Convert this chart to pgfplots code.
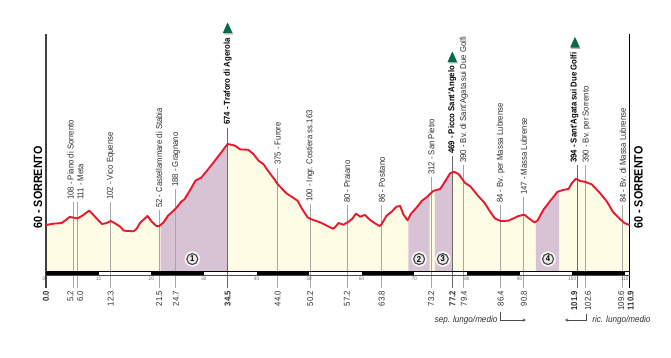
\documentclass[border=0pt]{standalone}
\usepackage{fontspec}
\setmainfont[FakeStretch=0.9]{Liberation Sans}
\usepackage{pgfplots}
\pgfplotsset{compat=1.18}
\usepgfplotslibrary{fillbetween}
\usepackage{pgfplotstable}
\definecolor{cream}{HTML}{FFFCE6}
\definecolor{zone}{HTML}{D7C3D4}
\definecolor{prof}{HTML}{E8192F}
\definecolor{vline}{HTML}{A6A6A2}
\definecolor{vdark}{HTML}{6A6A6A}
\definecolor{txt}{HTML}{2E2E2E}
\definecolor{gr}{HTML}{006B45}
\pgfplotstableread{
km e
0 60
1.4 70
3.0 75
3.6 93
4.5 121
5.2 116
6.0 110
7.0 133
8.2 169
9.2 128
10.6 68
11.4 73
12.3 90
13.1 73
14.1 47
14.8 17
15.6 15
16.6 12
17.2 30
17.9 78
19.3 128
20.1 85
21.0 52
21.5 52
22.3 78
23.2 131
24.7 186
25.7 237
26.3 254
27.4 325
28.4 396
29.5 419
30.7 477
31.8 532
33.4 615
34.5 674
35.9 661
36.9 633
38.4 630
39.4 598
40.4 547
41.3 522
42.2 470
43.5 401
44.0 370
45.7 300
47.8 244
48.6 186
49.7 118
50.3 105
52.1 80
54.5 32
54.9 42
55.6 75
56.5 62
57.5 85
58.2 108
58.9 146
59.7 123
60.6 136
61.6 98
62.5 73
63.4 52
63.8 68
64.7 130
65.7 161
66.6 199
67.3 204
67.9 141
68.7 95
69.3 143
70.4 191
71.4 242
72.3 270
73.6 318
74.9 333
75.8 388
76.8 452
77.5 464
78.4 446
79.6 380
80.7 350
81.8 295
83.4 224
84.4 161
85.3 110
86.4 90
87.9 93
89.8 128
90.9 138
92.0 103
92.8 80
93.4 93
94.5 174
95.8 242
97.2 312
98.2 325
99.3 333
99.9 376
100.7 411
101.5 393
102.4 388
103.7 368
105.2 305
106.6 237
107.7 161
109.1 103
110.0 73
110.9 60
}\profile
\newcommand{\lab}[4][]{\node[rotate=90,anchor=west,inner sep=0pt,text=txt,font=\fontsize{8.6}{9}\selectfont,#1] at (axis cs:#2,{60+(225-#3)*7.576}) {#4};}
\newcommand{\blab}[3]{\lab[text=black,font=\fontsize{8.6}{9}\selectfont\bfseries]{#1}{#2}{#3}}
\newcommand{\vl}[3][vline]{\addplot[#1,line width=1pt] coordinates {(#2,-417) (#2,#3)};}
\newcommand{\kmbar}[2]{\addplot[fill=black,draw=none] coordinates {(#1,-288.5) (#2,-288.5) (#2,-321) (#1,-321)} -- cycle;}
\newcommand{\stopn}[2]{\node[circle,fill=white,fill opacity=0.85,inner sep=0pt,minimum size=15.5pt] at (axis cs:#1,-198) {};
\node[circle,draw=black!70,line width=1.2pt,fill=black!8,inner sep=0.6pt,minimum size=11pt,font=\fontsize{8.5}{9}\selectfont\bfseries,text=black] at (axis cs:#1,-198) {#2};}
\newcommand{\rb}[2]{\raisebox{#1}[0pt][0pt]{#2}}
\begin{document}
\begin{tikzpicture}[x=1pt,y=1pt]
\path (0,0) rectangle (671,357);
\begin{axis}[
  at={(46pt,86pt)}, anchor=south west,
  scale only axis, width=583.6pt, height=237pt,
  xmin=0, xmax=110.9, ymin=-288.5, ymax=1507,
  clip=false,
  axis line style={draw=none},
  ytick=\empty,
  axis x line*=bottom,
  axis y line=none,
  major tick length=0pt,
  xtick={0,5.2,6.0,12.3,21.5,24.7,34.5,44.0,50.2,57.2,63.8,73.2,77.2,79.4,86.4,90.8,101.0,102.6,109.6,110.9},
  xticklabels={\textbf{0.0},\rb{0pt}{5.2},\rb{-5.5pt}{6.0},12.3,21.5,24.7,\textbf{34.5},44.0,50.2,57.2,63.8,73.2,\textbf{77.2},79.4,86.4,90.8,\rb{0.3pt}{\textbf{101.9}},\rb{-4.9pt}{102.6},\rb{-1.4pt}{109.6},\rb{-4.1pt}{\textbf{110.9}}},
  xticklabel style={yshift=-20pt,rotate=90,anchor=east,inner sep=0pt,text=txt,font=\fontsize{8.6}{9}\selectfont},
]
% filled profile
\addplot[name path=p,draw=none,forget plot] table[x=km,y=e] {\profile};
\addplot[name path=b,draw=none,forget plot] coordinates {(0,-288.5) (110.9,-288.5)};
\addplot[cream] fill between[of=p and b];
\addplot[zone] fill between[of=p and b, soft clip={domain=21.8:34.5}];
\addplot[zone] fill between[of=p and b, soft clip={domain=68.85:72.9}];
\addplot[zone] fill between[of=p and b, soft clip={domain=73.9:77.2}];
\addplot[zone] fill between[of=p and b, soft clip={domain=93.1:97.5}];
% vertical lines
\vl{5.2}{234}
\vl{6.0}{234}
\vl{12.3}{234}
\vl{21.5}{174}
\vl{24.7}{333}
\vl[vdark]{34.5}{795}
\vl{44.0}{492}
\vl{50.2}{219}
\vl{57.2}{212}
\vl{63.8}{212}
\vl{73.2}{424}
\vl[vdark]{77.2}{583}
\vl{79.4}{515}
\vl{86.4}{212}
\vl{90.8}{272}
\vl[vdark]{101.0}{515}
\vl{102.6}{515}
\vl{109.6}{212}
% frame sides
\addplot[black!75,line width=1.4pt] coordinates {(0,-417) (0,1507)};
\addplot[black,line width=1.2pt] coordinates {(110.9,-417) (110.9,1507)};
% km scale
\addplot[black!70,line width=0.4pt] coordinates {(0,-321) (110.9,-321)};
\kmbar{0}{10}\kmbar{20}{30}\kmbar{40}{50}\kmbar{60}{70}\kmbar{80}{90}\kmbar{100}{110}
\addplot[black,line width=0.8pt] coordinates {(0,-288.5) (110.9,-288.5)};
% profile line
\addplot[prof,line width=1.9pt,line join=round] table[x=km,y=e] {\profile};
% labels
\lab{4.65}{200}{108 - Piano di Sorrento}
\lab{6.55}{200}{111 - Meta}
\lab{12.3}{200}{102 - Vico Equense}
\lab{21.5}{208}{52 - Castellammare di Stabia}
\lab{24.7}{187}{188 - Gragnano}
\blab{34.5}{125}{674 - Traforo di Agerola}
\lab{44.0}{165}{375 - Furore}
\lab{50.2}{202}{100 - Ingr. Costiera ss.163}
\lab{57.2}{203}{80 - Praiano}
\lab{63.8}{203}{86 - Positano}
\lab{73.2}{175}{312 - San Pietro}
\blab{77.2}{154}{469 - Picco Sant'Angelo}
\lab{79.4}{163}{390 - Bv. di Sant'Agata sui Due Golfi}
\lab{86.4}{203}{84 - Bv. per Massa Lubrense}
\lab{90.8}{195}{147 - Massa Lubrense}
\blab{100.4}{163}{394 - Sant'Agata sui Due Golfi}
\lab{102.7}{163}{390 - Bv. per Sorrento}
\lab{109.6}{203}{84 - Bv. di Massa Lubrense}
% start and finish
\lab[text=black,font=\fontsize{12}{13}\selectfont\bfseries]{-1.52}{229}{60 - SORRENTO}
\lab[text=black,font=\fontsize{12}{13}\selectfont\bfseries]{112.6}{229}{60 - SORRENTO}
% km numbers
\pgfplotsinvokeforeach{10,20,...,110}{\node[text=black!60,inner sep=0pt,font=\fontsize{5}{5}\selectfont] at (axis cs:#1,-346) {#1};}
\node[text=black!60,inner sep=0pt,font=\fontsize{5}{5}\selectfont] at (axis cs:-0.4,-346) {0};
% summits
\addplot[only marks,mark=triangle*,mark size=5pt,black!45,opacity=0.6,mark options={yscale=1.3,xshift=1pt,yshift=-1pt}] coordinates {(34.5,1541) (77.2,1321) (100.5,1431)};
\addplot[only marks,mark=triangle*,mark size=5pt,gr,mark options={yscale=1.3}] coordinates {(34.5,1541) (77.2,1321) (100.5,1431)};
% stops
\stopn{27.8}{1}\stopn{70.9}{2}\stopn{75.4}{3}\stopn{95.4}{4}
% separation markers
\addplot[black!70,line width=0.5pt,-stealth] coordinates {(86.4,-597) (86.4,-660) (91.2,-660)};
\addplot[black!70,line width=0.5pt,-stealth] coordinates {(102.6,-614) (102.6,-660) (98.6,-660)};
\node[anchor=east,inner sep=0pt,text=txt,font=\fontsize{9}{10}\selectfont\itshape] at (axis cs:85.8,-660) {sep. lungo/medio};
\node[anchor=west,inner sep=0pt,text=txt,font=\fontsize{9}{10}\selectfont\itshape] at (axis cs:103.8,-660) {ric. lungo/medio};
\end{axis}
\end{tikzpicture}
\end{document}
